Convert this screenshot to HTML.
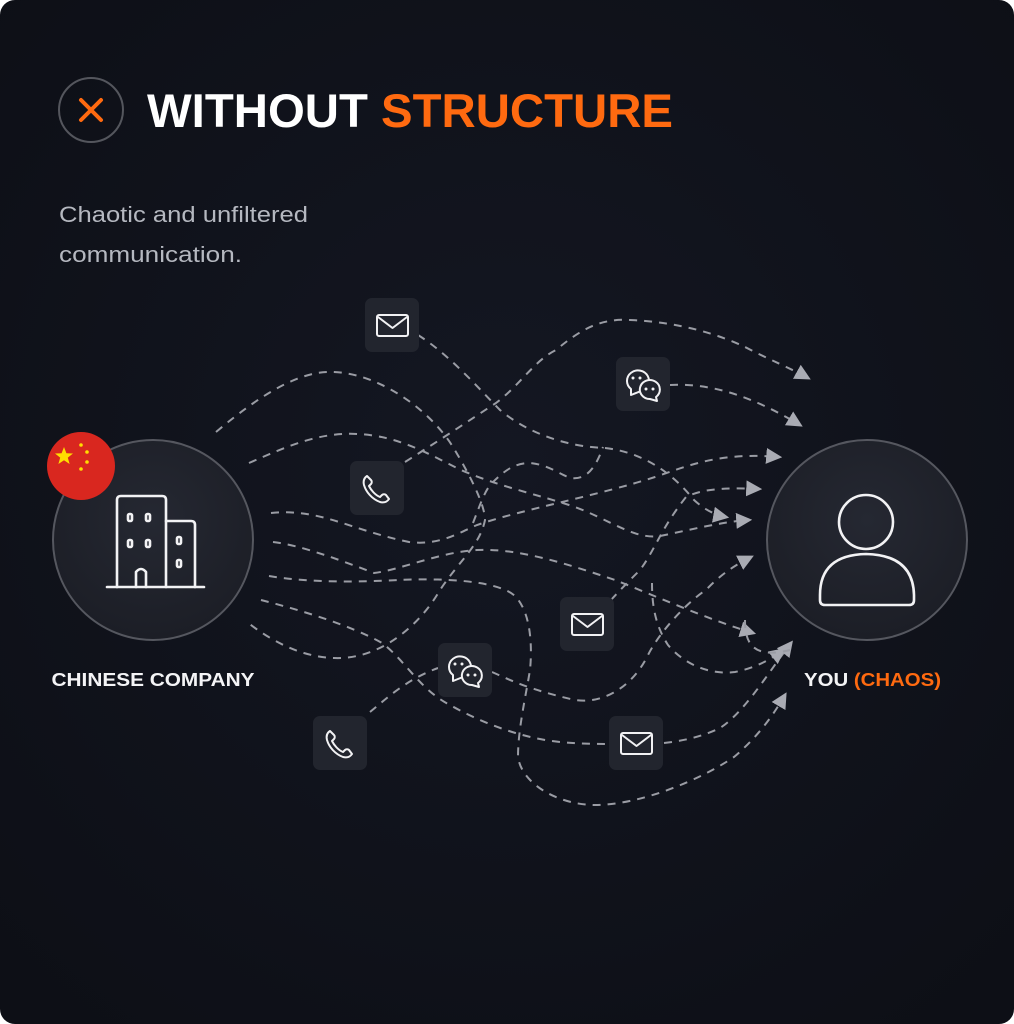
<!DOCTYPE html>
<html><head><meta charset="utf-8"><style>
html,body{margin:0;padding:0;background:#fff;width:1014px;height:1024px;overflow:hidden}
svg{display:block}
text{font-family:"Liberation Sans","DejaVu Sans",sans-serif}
</style></head><body>
<svg width="1014" height="1024" viewBox="0 0 1014 1024" xmlns="http://www.w3.org/2000/svg">
<defs>
<radialGradient id="bg" cx="0.5" cy="0.45" r="0.7"><stop offset="0" stop-color="#141722"/><stop offset="1" stop-color="#0d0f16"/></radialGradient>
<radialGradient id="cg" cx="0.5" cy="0.4" r="0.6"><stop offset="0" stop-color="#252832"/><stop offset="1" stop-color="#1c1e26"/></radialGradient>
<marker id="ar" viewBox="0 0 10 10" refX="8" refY="5" markerWidth="16" markerHeight="16" markerUnits="userSpaceOnUse" orient="auto"><path d="M0,0 L10,5 L0,10 Z" fill="#a9abb3"/></marker>
</defs>
<rect x="0" y="0" width="1014" height="1024" rx="15" fill="url(#bg)"/>
<!-- header -->
<circle cx="91" cy="110" r="32" fill="none" stroke="#54565d" stroke-width="2"/>
<path d="M81,100 L101,120 M101,100 L81,120" stroke="#ff6a10" stroke-width="4" stroke-linecap="round"/>
<text x="147" y="127" font-size="47" font-weight="bold" fill="#ffffff" textLength="526" lengthAdjust="spacingAndGlyphs">WITHOUT <tspan fill="#ff6a10">STRUCTURE</tspan></text>
<text x="59" y="222" font-size="22" fill="#b5b8c0" textLength="249" lengthAdjust="spacingAndGlyphs">Chaotic and unfiltered</text>
<text x="59" y="262" font-size="22" fill="#b5b8c0" textLength="183" lengthAdjust="spacingAndGlyphs">communication.</text>

<!-- connectors -->
<g fill="none" stroke="#9a9ca4" stroke-width="2" stroke-dasharray="8 7">
<path d="M216,432 C260,395 300,370 334,372 C380,374 430,410 453,447 C470,475 485,505 485,520 C480,545 460,560 440,590 C420,625 380,660 334,658 C300,657 270,640 247,622"/>
<path d="M249,463 C290,445 320,432 358,434 C400,436 430,455 461,470 C500,487 540,495 575,507 C610,520 635,540 660,536 C690,530 720,522 749,520" marker-end="url(#ar)"/>
<path d="M271,513 C320,508 350,530 409,542 C440,546 460,532 477,525 C520,510 600,495 655,477 C690,465 720,452 779,457" marker-end="url(#ar)"/>
<path d="M273,542 C300,545 340,560 374,573 C400,570 440,552 477,550 C520,548 570,565 615,580 C660,598 710,620 753,633" marker-end="url(#ar)"/>
<path d="M269,576 C310,583 360,582 398,580 C440,578 500,580 516,597 C532,615 532,650 530,670 C525,700 518,730 518,757 C522,785 560,805 595,805 C640,805 700,780 734,757 C760,735 775,712 785,695" marker-end="url(#ar)"/>
<path d="M261,600 C300,610 350,625 382,643 C405,660 420,690 450,705 C480,722 520,738 560,742 C580,744 600,744 608,744"/>
<path d="M664,743 C690,740 705,735 720,728 C745,712 770,670 791,643" marker-end="url(#ar)"/>
<path d="M370,712 C385,700 405,680 438,668"/>
<path d="M492,672 C510,680 530,690 575,700 C600,704 630,690 647,657 C660,630 690,600 706,590 C720,575 735,565 751,557" marker-end="url(#ar)"/>
<path d="M611,600 C620,590 630,580 640,570 C655,550 660,530 686,497 C700,490 720,487 759,489" marker-end="url(#ar)"/>
<path d="M652,583 C652,605 655,625 668,645 C685,665 710,675 735,672 C755,668 770,660 783,650" marker-end="url(#ar)"/>
<path d="M405,462 C440,440 470,420 496,403 C520,385 535,360 556,350 C580,330 600,318 630,320 C680,322 720,335 745,347 C770,360 790,368 808,378" marker-end="url(#ar)"/>
<path d="M418,335 C450,355 480,390 500,410 C530,435 570,447 605,448 C640,452 670,470 694,500 C705,510 715,515 726,517" marker-end="url(#ar)"/>
<path d="M473,523 C480,505 485,490 492,483 C505,470 515,463 530,463 C550,465 560,475 571,478 C585,480 595,470 603,447"/>
<path d="M670,385 C710,383 750,395 800,425" marker-end="url(#ar)"/>
<path d="M745,620 C745,640 750,660 790,650"/>
</g>

<!-- left node -->
<circle cx="153" cy="540" r="100" fill="url(#cg)" stroke="#55575f" stroke-width="2"/>
<g fill="none" stroke="#f2f2f4" stroke-width="2.6" stroke-linecap="round" stroke-linejoin="round">
<path d="M117,587 L117,500 Q117,496 121,496 L162,496 Q166,496 166,500 L166,587"/>
<path d="M166,521 L191,521 Q195,521 195,525 L195,587"/>
<path d="M107,587 L204,587"/>
<path d="M136,587 L136,572 Q141,566 146,572 L146,587"/>
<rect x="128" y="514" width="4" height="7" rx="1.5"/><rect x="146" y="514" width="4" height="7" rx="1.5"/>
<rect x="128" y="540" width="4" height="7" rx="1.5"/><rect x="146" y="540" width="4" height="7" rx="1.5"/>
<rect x="177" y="537" width="4" height="7" rx="1.5"/><rect x="177" y="560" width="4" height="7" rx="1.5"/>
</g>
<circle cx="81" cy="466" r="34" fill="#d9271f"/>
<polygon points="64,447 66.4,453.3 73,453.5 67.8,457.6 69.6,464 64,460.3 58.4,464 60.2,457.6 55,453.5 61.6,453.3" fill="#ffde00"/>
<circle cx="81" cy="445" r="1.8" fill="#ffde00"/><circle cx="87" cy="452" r="1.8" fill="#ffde00"/>
<circle cx="87" cy="462" r="1.8" fill="#ffde00"/><circle cx="81" cy="469" r="1.8" fill="#ffde00"/>
<text x="153" y="686" font-size="18" font-weight="bold" fill="#f4f4f6" text-anchor="middle" textLength="203" lengthAdjust="spacingAndGlyphs">CHINESE COMPANY</text>

<!-- right node -->
<circle cx="867" cy="540" r="100" fill="url(#cg)" stroke="#55575f" stroke-width="2"/>
<g fill="none" stroke="#f2f2f4" stroke-width="2.6" stroke-linejoin="round">
<circle cx="866" cy="522" r="27"/>
<path d="M820,600 L820,595 Q820,555 866,554 Q913,555 914,595 L914,600 Q914,605 909,605 L825,605 Q820,605 820,600 Z"/>
</g>
<text x="804" y="686" font-size="18" font-weight="bold" fill="#f4f4f6" textLength="137" lengthAdjust="spacingAndGlyphs">YOU <tspan fill="#ff6a10">(CHAOS)</tspan></text>

<!-- icon tiles -->
<g fill="#22252e">
<rect x="365" y="298" width="54" height="54" rx="7"/>
<rect x="616" y="357" width="54" height="54" rx="7"/>
<rect x="350" y="461" width="54" height="54" rx="7"/>
<rect x="560" y="597" width="54" height="54" rx="7"/>
<rect x="438" y="643" width="54" height="54" rx="7"/>
<rect x="313" y="716" width="54" height="54" rx="7"/>
<rect x="609" y="716" width="54" height="54" rx="7"/>
</g>
<g fill="none" stroke="#f2f2f4" stroke-width="2" stroke-linejoin="round" stroke-linecap="round">
<g><rect x="377" y="315" width="31" height="21" rx="2"/><path d="M378,317 L392.5,328 L407,317"/></g>
<g transform="translate(195,299)"><rect x="377" y="315" width="31" height="21" rx="2"/><path d="M378,317 L392.5,328 L407,317"/></g>
<g transform="translate(244,418)"><rect x="377" y="315" width="31" height="21" rx="2"/><path d="M378,317 L392.5,328 L407,317"/></g>
<g><path d="M367,476 C364,478 363,481 364,485 C366,492 372,499 380,502 C384,503 387,502 389,499 L386,495 C385,494 383,494 382,495 L380,497 C375,495 371,490 369,486 L371,484 C372,483 372,481 371,480 Z"/></g>
<g transform="translate(-37,255)"><path d="M367,476 C364,478 363,481 364,485 C366,492 372,499 380,502 C384,503 387,502 389,499 L386,495 C385,494 383,494 382,495 L380,497 C375,495 371,490 369,486 L371,484 C372,483 372,481 371,480 Z"/></g>
<!-- wechat -->
<g>
<path d="M631,389 A11,10.5 0 1 1 641,391 L631,395 Z"/>
<path d="M656,397 A10,9.5 0 1 0 650,399 L657,401 Z" fill="#22252e"/>
</g>
<g transform="translate(-178,286)">
<path d="M631,389 A11,10.5 0 1 1 641,391 L631,395 Z"/>
<path d="M656,397 A10,9.5 0 1 0 650,399 L657,401 Z" fill="#22252e"/>
</g>
</g>
<g fill="#f2f2f4">
<circle cx="633" cy="378" r="1.5"/><circle cx="640" cy="378" r="1.5"/><circle cx="646" cy="389" r="1.5"/><circle cx="653" cy="389" r="1.5"/>
<circle cx="455" cy="664" r="1.5"/><circle cx="462" cy="664" r="1.5"/><circle cx="468" cy="675" r="1.5"/><circle cx="475" cy="675" r="1.5"/>
</g>
</svg>
</body></html>
